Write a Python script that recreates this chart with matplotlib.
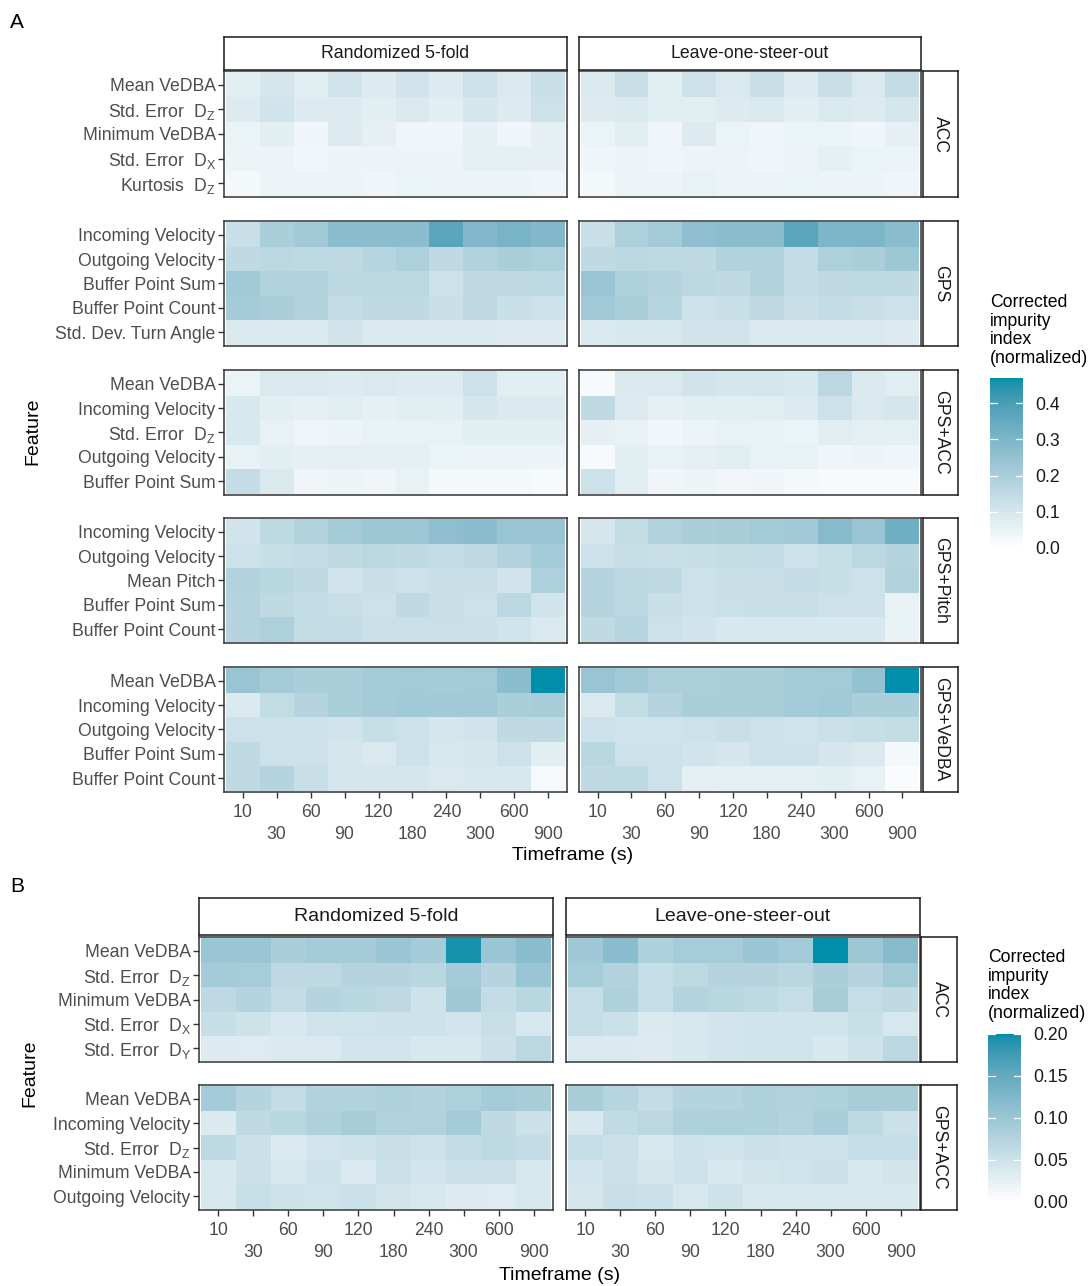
import numpy as np
import matplotlib
matplotlib.use("Agg")
import matplotlib.pyplot as plt
from matplotlib.colors import ListedColormap, Normalize, to_rgb
from matplotlib.cm import ScalarMappable
from matplotlib.transforms import blended_transform_factory

plt.rcParams['font.family'] = ['Liberation Sans', 'DejaVu Sans']
plt.rcParams['mathtext.fontset'] = 'custom'
plt.rcParams['mathtext.rm'] = 'Liberation Sans'
plt.rcParams['mathtext.it'] = 'Liberation Sans:italic'
plt.rcParams['mathtext.bf'] = 'Liberation Sans:bold'

# ---------------------------------------------------------------- data
timeframes = ["10", "30", "60", "90", "120", "180", "240", "300", "600", "900"]
validations = ["Randomized 5-fold", "Leave-one-steer-out"]

SE_Z = r"Std. Error  D$_\mathrm{Z}$"
SE_X = r"Std. Error  D$_\mathrm{X}$"
SE_Y = r"Std. Error  D$_\mathrm{Y}$"
KURT_Z = r"Kurtosis  D$_\mathrm{Z}$"

# Panel A: feature sets
groups_a = ["ACC", "GPS", "GPS+ACC", "GPS+Pitch", "GPS+VeDBA"]
features_acc_a = ["Mean VeDBA", SE_Z, "Minimum VeDBA", SE_X, KURT_Z]
features_gps_a = ["Incoming Velocity", "Outgoing Velocity", "Buffer Point Sum",
                  "Buffer Point Count", "Std. Dev. Turn Angle"]
features_gpsacc_a = ["Mean VeDBA", "Incoming Velocity", SE_Z, "Outgoing Velocity",
                     "Buffer Point Sum"]
features_gpspitch_a = ["Incoming Velocity", "Outgoing Velocity", "Mean Pitch",
                       "Buffer Point Sum", "Buffer Point Count"]
features_gpsvedba_a = ["Mean VeDBA", "Incoming Velocity", "Outgoing Velocity",
                       "Buffer Point Sum", "Buffer Point Count"]

acc_rand_a = [
    [0.07, 0.10, 0.07, 0.11, 0.08, 0.11, 0.08, 0.12, 0.09, 0.13],
    [0.08, 0.11, 0.08, 0.08, 0.07, 0.09, 0.07, 0.10, 0.08, 0.12],
    [0.05, 0.07, 0.04, 0.08, 0.06, 0.04, 0.04, 0.06, 0.04, 0.06],
    [0.045, 0.045, 0.035, 0.045, 0.045, 0.045, 0.045, 0.06, 0.06, 0.06],
    [0.03, 0.045, 0.045, 0.045, 0.04, 0.05, 0.045, 0.045, 0.045, 0.04],
]
acc_loso_a = [
    [0.09, 0.13, 0.07, 0.12, 0.09, 0.13, 0.08, 0.13, 0.09, 0.14],
    [0.08, 0.09, 0.07, 0.07, 0.08, 0.09, 0.07, 0.09, 0.08, 0.10],
    [0.05, 0.07, 0.04, 0.08, 0.05, 0.04, 0.05, 0.05, 0.04, 0.06],
    [0.04, 0.045, 0.04, 0.045, 0.045, 0.04, 0.045, 0.06, 0.05, 0.05],
    [0.03, 0.045, 0.045, 0.055, 0.045, 0.045, 0.05, 0.045, 0.045, 0.04],
]
gps_rand_a = [
    [0.13, 0.20, 0.22, 0.27, 0.27, 0.27, 0.37, 0.29, 0.31, 0.29],
    [0.15, 0.16, 0.155, 0.15, 0.17, 0.19, 0.15, 0.18, 0.20, 0.19],
    [0.22, 0.18, 0.18, 0.16, 0.16, 0.16, 0.12, 0.15, 0.15, 0.155],
    [0.21, 0.20, 0.18, 0.14, 0.15, 0.15, 0.13, 0.15, 0.13, 0.12],
    [0.09, 0.09, 0.09, 0.11, 0.09, 0.09, 0.09, 0.09, 0.08, 0.08],
]
gps_loso_a = [
    [0.13, 0.19, 0.21, 0.26, 0.27, 0.27, 0.37, 0.30, 0.30, 0.27],
    [0.15, 0.16, 0.155, 0.15, 0.18, 0.18, 0.14, 0.19, 0.20, 0.23],
    [0.24, 0.19, 0.175, 0.16, 0.15, 0.18, 0.14, 0.15, 0.155, 0.15],
    [0.22, 0.20, 0.17, 0.12, 0.13, 0.15, 0.13, 0.14, 0.13, 0.12],
    [0.09, 0.095, 0.095, 0.11, 0.11, 0.09, 0.09, 0.09, 0.09, 0.08],
]
gpsacc_rand_a = [
    [0.05, 0.09, 0.09, 0.08, 0.09, 0.08, 0.08, 0.12, 0.07, 0.07],
    [0.095, 0.07, 0.06, 0.075, 0.06, 0.075, 0.07, 0.10, 0.085, 0.085],
    [0.095, 0.055, 0.04, 0.045, 0.055, 0.055, 0.055, 0.07, 0.07, 0.07],
    [0.055, 0.07, 0.06, 0.06, 0.06, 0.06, 0.05, 0.045, 0.045, 0.045],
    [0.14, 0.09, 0.04, 0.045, 0.04, 0.055, 0.03, 0.03, 0.03, 0.02],
]
gpsacc_loso_a = [
    [0.02, 0.085, 0.09, 0.11, 0.10, 0.10, 0.095, 0.16, 0.085, 0.075],
    [0.15, 0.08, 0.06, 0.07, 0.07, 0.075, 0.08, 0.12, 0.09, 0.10],
    [0.06, 0.055, 0.035, 0.045, 0.055, 0.055, 0.05, 0.075, 0.065, 0.065],
    [0.02, 0.07, 0.055, 0.06, 0.075, 0.055, 0.055, 0.04, 0.045, 0.04],
    [0.12, 0.075, 0.04, 0.045, 0.035, 0.04, 0.03, 0.02, 0.02, 0.02],
]
gpspitch_rand_a = [
    [0.11, 0.155, 0.18, 0.21, 0.23, 0.23, 0.26, 0.27, 0.24, 0.24],
    [0.12, 0.135, 0.14, 0.15, 0.16, 0.15, 0.14, 0.15, 0.18, 0.215],
    [0.18, 0.165, 0.15, 0.11, 0.13, 0.12, 0.13, 0.13, 0.11, 0.19],
    [0.175, 0.15, 0.14, 0.13, 0.12, 0.15, 0.13, 0.12, 0.16, 0.11],
    [0.175, 0.19, 0.145, 0.14, 0.125, 0.125, 0.125, 0.125, 0.115, 0.09],
]
gpspitch_loso_a = [
    [0.10, 0.145, 0.18, 0.20, 0.205, 0.215, 0.22, 0.28, 0.24, 0.33],
    [0.12, 0.135, 0.13, 0.135, 0.145, 0.14, 0.12, 0.135, 0.16, 0.175],
    [0.175, 0.16, 0.15, 0.12, 0.13, 0.13, 0.14, 0.135, 0.12, 0.185],
    [0.175, 0.16, 0.13, 0.12, 0.125, 0.13, 0.13, 0.12, 0.12, 0.055],
    [0.15, 0.17, 0.12, 0.11, 0.095, 0.095, 0.095, 0.095, 0.095, 0.055],
]
gpsvedba_rand_a = [
    [0.24, 0.21, 0.20, 0.20, 0.21, 0.215, 0.21, 0.215, 0.27, 0.47],
    [0.085, 0.145, 0.175, 0.20, 0.21, 0.22, 0.22, 0.22, 0.20, 0.205],
    [0.12, 0.12, 0.12, 0.11, 0.135, 0.12, 0.10, 0.11, 0.15, 0.15],
    [0.15, 0.12, 0.12, 0.10, 0.09, 0.12, 0.095, 0.10, 0.12, 0.07],
    [0.15, 0.175, 0.13, 0.10, 0.10, 0.10, 0.09, 0.095, 0.095, 0.025],
]
gpsvedba_loso_a = [
    [0.24, 0.22, 0.195, 0.195, 0.20, 0.20, 0.21, 0.215, 0.25, 0.47],
    [0.09, 0.145, 0.175, 0.20, 0.20, 0.20, 0.21, 0.22, 0.20, 0.20],
    [0.12, 0.115, 0.115, 0.12, 0.13, 0.12, 0.115, 0.125, 0.135, 0.145],
    [0.165, 0.12, 0.12, 0.11, 0.10, 0.12, 0.12, 0.10, 0.09, 0.03],
    [0.15, 0.155, 0.12, 0.06, 0.065, 0.065, 0.065, 0.07, 0.055, 0.015],
]

# Panel B: feature sets
groups_b = ["ACC", "GPS+ACC"]
features_acc_b = ["Mean VeDBA", SE_Z, "Minimum VeDBA", SE_X, SE_Y]
features_gpsacc_b = ["Mean VeDBA", "Incoming Velocity", SE_Z, "Minimum VeDBA",
                     "Outgoing Velocity"]

acc_rand_b = [
    [0.10, 0.10, 0.085, 0.09, 0.09, 0.10, 0.09, 0.195, 0.10, 0.115],
    [0.09, 0.088, 0.065, 0.065, 0.075, 0.075, 0.07, 0.09, 0.075, 0.10],
    [0.065, 0.075, 0.06, 0.075, 0.07, 0.065, 0.05, 0.095, 0.06, 0.07],
    [0.057, 0.05, 0.04, 0.048, 0.048, 0.05, 0.05, 0.045, 0.055, 0.042],
    [0.035, 0.033, 0.037, 0.038, 0.045, 0.045, 0.04, 0.04, 0.053, 0.068],
]
acc_loso_b = [
    [0.095, 0.115, 0.08, 0.088, 0.088, 0.10, 0.092, 0.20, 0.097, 0.118],
    [0.088, 0.077, 0.058, 0.066, 0.075, 0.075, 0.07, 0.085, 0.075, 0.092],
    [0.058, 0.08, 0.058, 0.076, 0.07, 0.066, 0.058, 0.087, 0.058, 0.064],
    [0.058, 0.052, 0.037, 0.042, 0.045, 0.047, 0.047, 0.047, 0.056, 0.042],
    [0.038, 0.037, 0.035, 0.04, 0.045, 0.047, 0.047, 0.04, 0.05, 0.068],
]
gpsacc_rand_b = [
    [0.09, 0.075, 0.06, 0.077, 0.077, 0.08, 0.077, 0.082, 0.09, 0.087],
    [0.036, 0.064, 0.07, 0.08, 0.087, 0.078, 0.078, 0.09, 0.064, 0.052],
    [0.066, 0.052, 0.037, 0.045, 0.05, 0.055, 0.05, 0.06, 0.066, 0.06],
    [0.04, 0.053, 0.042, 0.05, 0.038, 0.052, 0.045, 0.052, 0.052, 0.042],
    [0.04, 0.056, 0.05, 0.048, 0.052, 0.046, 0.04, 0.035, 0.033, 0.042],
]
gpsacc_loso_b = [
    [0.087, 0.072, 0.06, 0.075, 0.075, 0.08, 0.078, 0.08, 0.087, 0.087],
    [0.04, 0.062, 0.068, 0.08, 0.082, 0.08, 0.076, 0.086, 0.066, 0.052],
    [0.058, 0.052, 0.04, 0.05, 0.048, 0.053, 0.05, 0.05, 0.058, 0.058],
    [0.045, 0.052, 0.043, 0.05, 0.04, 0.046, 0.048, 0.052, 0.04, 0.046],
    [0.043, 0.055, 0.052, 0.042, 0.05, 0.042, 0.04, 0.04, 0.04, 0.04],
]

# ---------------------------------------------------------------- colour scale
def _srgb_to_lab(rgb):
    rgb = np.asarray(rgb, dtype=float)
    lin = np.where(rgb <= 0.04045, rgb / 12.92, ((rgb + 0.055) / 1.055) ** 2.4)
    m = np.array([[0.4124564, 0.3575761, 0.1804375],
                  [0.2126729, 0.7151522, 0.0721750],
                  [0.0193339, 0.1191920, 0.9503041]])
    xyz = m @ lin / np.array([0.95047, 1.0, 1.08883])
    f = np.where(xyz > (6 / 29) ** 3, np.cbrt(xyz), xyz / (3 * (6 / 29) ** 2) + 4 / 29)
    return np.array([116 * f[1] - 16, 500 * (f[0] - f[1]), 200 * (f[1] - f[2])])


def _lab_to_srgb(lab):
    L, a, b = lab
    fy = (L + 16) / 116
    fx = fy + a / 500
    fz = fy - b / 200
    f = np.array([fx, fy, fz])
    xyz = np.where(f > 6 / 29, f ** 3, 3 * (6 / 29) ** 2 * (f - 4 / 29))
    xyz = xyz * np.array([0.95047, 1.0, 1.08883])
    minv = np.array([[3.2404542, -1.5371385, -0.4985314],
                     [-0.9692660, 1.8760108, 0.0415560],
                     [0.0556434, -0.2040259, 1.0572252]])
    lin = minv @ xyz
    lin = np.clip(lin, 0, 1)
    rgb = np.where(lin <= 0.0031308, 12.92 * lin, 1.055 * lin ** (1 / 2.4) - 0.055)
    return np.clip(rgb, 0, 1)


def lab_gradient(low, high, n=256):
    l0 = _srgb_to_lab(to_rgb(low))
    l1 = _srgb_to_lab(to_rgb(high))
    cols = [_lab_to_srgb(l0 + (l1 - l0) * t) for t in np.linspace(0, 1, n)]
    return ListedColormap(cols)


cmap = lab_gradient("#FFFFFF", "#008EAA")

# ---------------------------------------------------------------- layout
W, H = 1089, 1286
fig = plt.figure(figsize=(W / 100, H / 100), dpi=100)


def box(x0, y0, x1, y1):
    return [x0 / W, 1 - y1 / H, (x1 - x0) / W, (y1 - y0) / H]


TICK_FS = 12.7
TICK_COL = "#4D4D4D"
BORDER_COL = "#333333"


def heat_panel(rect, values, features, norm, show_y, show_x):
    ax = fig.add_axes(box(*rect))
    arr = np.asarray(values, dtype=float)
    ax.pcolormesh(np.arange(-0.5, len(timeframes)), np.arange(-0.5, arr.shape[0]),
                  arr, cmap=cmap, norm=norm, shading="flat", edgecolors="none")
    ax.set_xlim(-0.55, len(timeframes) - 0.45)
    ax.set_ylim(arr.shape[0] - 0.44, -0.56)
    for s in ax.spines.values():
        s.set_color(BORDER_COL)
        s.set_linewidth(1.1)
    ax.tick_params(length=4, width=1.0, color=BORDER_COL, labelsize=TICK_FS,
                   labelcolor=TICK_COL, pad=2)
    ax.set_yticks(range(arr.shape[0]))
    if show_y:
        ax.set_yticklabels(features)
    else:
        ax.tick_params(axis="y", left=False, labelleft=False)
    ax.set_xticks(range(len(timeframes)))
    if show_x:
        ax.set_xticklabels([t if i % 2 == 0 else "\n" + t for i, t in enumerate(timeframes)],
                           linespacing=1.38)
        ax.tick_params(axis="x", pad=4.5)
    else:
        ax.tick_params(axis="x", bottom=False, labelbottom=False)
    return ax


def strip(rect, text, fs, vertical=False):
    ax = fig.add_axes(box(*rect))
    ax.set_xticks([])
    ax.set_yticks([])
    ax.set_facecolor("white")
    for s in ax.spines.values():
        s.set_color("#1A1A1A")
        s.set_linewidth(1.1)
    ax.text(0.5, 0.5, text, ha="center", va="center", fontsize=fs, color="#1A1A1A",
            rotation=-90 if vertical else 0, transform=ax.transAxes)


def colorbar(rect, norm, ticks, fmt):
    cax = fig.add_axes(box(*rect))
    cb = fig.colorbar(ScalarMappable(norm=norm, cmap=cmap), cax=cax)
    cb.outline.set_visible(False)
    cb.set_ticks(ticks)
    cb.set_ticklabels([fmt.format(t) for t in ticks])
    cax.tick_params(length=0, labelsize=TICK_FS, labelcolor="#1A1A1A", pad=9)
    tr = blended_transform_factory(cax.transAxes, cax.transData)
    for t in ticks:
        cax.plot([0, 0.2], [t, t], color="white", lw=0.9, transform=tr, clip_on=False)
        cax.plot([0.8, 1.0], [t, t], color="white", lw=0.9, transform=tr, clip_on=False)
    return cax


# ---------------------------------------------------------------- section A
norm_a = Normalize(0, 0.47)
cols_a = [(224, 567), (579, 921)]
rows_a = [(71, 197), (221, 346), (370, 495), (518, 643), (667, 792)]
data_a = [
    (features_acc_a, acc_rand_a, acc_loso_a),
    (features_gps_a, gps_rand_a, gps_loso_a),
    (features_gpsacc_a, gpsacc_rand_a, gpsacc_loso_a),
    (features_gpspitch_a, gpspitch_rand_a, gpspitch_loso_a),
    (features_gpsvedba_a, gpsvedba_rand_a, gpsvedba_loso_a),
]

for ci, (x0, x1) in enumerate(cols_a):
    strip((x0, 37, x1, 70), validations[ci], 12.7)
for ri, (y0, y1) in enumerate(rows_a):
    feats, v_rand, v_loso = data_a[ri]
    for ci, (x0, x1) in enumerate(cols_a):
        heat_panel((x0, y0, x1, y1), [v_rand, v_loso][ci], feats, norm_a,
                   show_y=(ci == 0), show_x=(ri == len(rows_a) - 1))
    strip((923, y0, 958, y1), groups_a[ri], 12.7, vertical=True)

fig.text(17 / W, 1 - 22 / H, "A", fontsize=15, ha="center", va="center", color="black")
fig.text((224 + 921) / 2 / W, 1 - 856 / H, "Timeframe (s)", fontsize=14, ha="center",
         va="center", color="black")
fig.text(33 / W, 1 - 431 / H, "Feature", fontsize=14, ha="center", va="center",
         rotation=90, color="black")
fig.text(990 / W, 1 - 294 / H, "Corrected\nimpurity\nindex\n(normalized)", fontsize=12.7,
         ha="left", va="top", linespacing=1.12, color="black")
colorbar((990, 378, 1023, 548), norm_a, [0.0, 0.1, 0.2, 0.3, 0.4], "{:.1f}")

# ---------------------------------------------------------------- section B
norm_b = Normalize(0, 0.20)
cols_b = [(199, 553), (566, 920)]
rows_b = [(937, 1062), (1085, 1210)]
data_b = [
    (features_acc_b, acc_rand_b, acc_loso_b),
    (features_gpsacc_b, gpsacc_rand_b, gpsacc_loso_b),
]

for ci, (x0, x1) in enumerate(cols_b):
    strip((x0, 898, x1, 935), validations[ci], 14)
for ri, (y0, y1) in enumerate(rows_b):
    feats, v_rand, v_loso = data_b[ri]
    for ci, (x0, x1) in enumerate(cols_b):
        heat_panel((x0, y0, x1, y1), [v_rand, v_loso][ci], feats, norm_b,
                   show_y=(ci == 0), show_x=(ri == len(rows_b) - 1))
    strip((921, y0, 957, y1), groups_b[ri], 12.7, vertical=True)

fig.text(17 / W, 1 - 887 / H, "B", fontsize=15, ha="center", va="center", color="black")
fig.text((199 + 920) / 2 / W, 1 - 1275 / H, "Timeframe (s)", fontsize=14, ha="center",
         va="center", color="black")
fig.text(30 / W, 1 - 1073 / H, "Feature", fontsize=14, ha="center", va="center",
         rotation=90, color="black")
fig.text(988 / W, 1 - 949 / H, "Corrected\nimpurity\nindex\n(normalized)", fontsize=12.7,
         ha="left", va="top", linespacing=1.12, color="black")
colorbar((988, 1034, 1021, 1202), norm_b, [0.0, 0.05, 0.10, 0.15, 0.20], "{:.2f}")

fig.savefig("out.png", dpi=100, facecolor="white")
